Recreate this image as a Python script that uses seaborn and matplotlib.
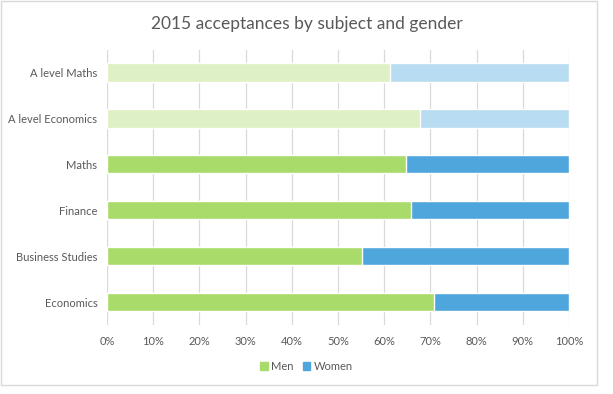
import matplotlib
matplotlib.use('Agg')
import matplotlib.pyplot as plt
import seaborn as sns
import pandas as pd
from matplotlib.patches import Patch
from matplotlib.ticker import PercentFormatter

# data, top row first
subjects = ['A level Maths', 'A level Economics', 'Maths', 'Finance',
            'Business Studies', 'Economics']
men = [0.613, 0.678, 0.647, 0.658, 0.553, 0.707]
women = [1 - m for m in men]

men_colors = ['#DEF0C5', '#DEF0C5', '#A9DB6A', '#A9DB6A', '#A9DB6A', '#A9DB6A']
women_colors = ['#B8DCF1', '#B8DCF1', '#4FA6DC', '#4FA6DC', '#4FA6DC', '#4FA6DC']

df = pd.DataFrame({'subject': subjects, 'men': men, 'women': women})
df['total'] = df.men + df.women

sns.set_style('white')
plt.rcParams['font.family'] = ['Lato', 'DejaVu Sans']

fig = plt.figure(figsize=(6.13, 3.94), dpi=100)
ax = fig.add_axes([107/613, 1 - 325/394, 462/613, 275.5/394])

# women drawn as full bar, men on top
sns.barplot(data=df, x='total', y='subject', hue='subject', order=subjects,
            palette=women_colors, legend=False, width=0.4, ax=ax, saturation=1)
sns.barplot(data=df, x='men', y='subject', hue='subject', order=subjects,
            palette=men_colors, legend=False, width=0.4, ax=ax, saturation=1)

ax.set_xlim(0, 1)
ax.set_xticks([i / 10 for i in range(11)])
ax.xaxis.set_major_formatter(PercentFormatter(1.0, decimals=0))
ax.grid(axis='x', color='#D9D9D9', linewidth=0.9)
ax.set_axisbelow(True)
for s in ax.spines.values():
    s.set_visible(False)
ax.set_xlabel('')
ax.set_ylabel('')
ax.tick_params(axis='both', length=0, labelsize=8, colors='#595959')
ax.tick_params(axis='x', pad=8)
ax.tick_params(axis='y', pad=7)

fig.text(0.5, 1 - 24/394, '2015 acceptances by subject and gender', ha='center',
         va='center', fontsize=12.5, color='#595959')

handles = [Patch(color='#A9DB6A', label='Men'), Patch(color='#4FA6DC', label='Women')]
fig.legend(handles=handles, loc='center', bbox_to_anchor=(0.5, 1 - 366/394), ncol=2,
           frameon=False, fontsize=8, labelcolor='#595959', handlelength=0.7,
           handleheight=0.7, handletextpad=0.3, columnspacing=0.8)

# light border round the chart
fig.patches.append(plt.Rectangle((1/613, 1 - 385/394), 596/613, 384/394,
                                 transform=fig.transFigure, fill=False,
                                 edgecolor='#D9D9D9', linewidth=1))

fig.savefig('out.png', dpi=100)
